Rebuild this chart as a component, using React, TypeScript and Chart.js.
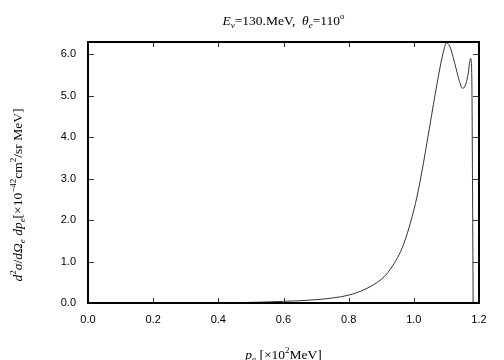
import React, { useEffect, useRef } from "react";
import { Chart, registerables } from "chart.js";

Chart.register(...registerables);

const momentum: number[] = [
  0.4, 0.45, 0.5, 0.55, 0.6, 0.65, 0.7, 0.75, 0.8, 0.85, 0.9, 0.92, 0.94, 0.96,
  0.97, 0.98, 0.99, 1.0, 1.01, 1.02, 1.03, 1.04, 1.05, 1.06, 1.07, 1.08, 1.09,
  1.1, 1.11, 1.12, 1.13, 1.14, 1.15, 1.16, 1.167, 1.172, 1.175, 1.178, 1.18,
  1.182,
];
const crossSection: number[] = [
  0.0, 0.005, 0.015, 0.025, 0.04, 0.055, 0.08, 0.12, 0.19, 0.33, 0.57, 0.73,
  0.96, 1.25, 1.45, 1.68, 1.95, 2.24, 2.58, 2.97, 3.4, 3.86, 4.32, 4.79, 5.24,
  5.67, 6.04, 6.28, 6.2, 5.95, 5.65, 5.35, 5.18, 5.3, 5.55, 5.85, 5.9, 5.4, 3.0,
  0.0,
];
const xTicks: number[] = [0, 0.2, 0.4, 0.6, 0.8, 1.0, 1.2];
const yTicks: number[] = [0, 1, 2, 3, 4, 5, 6];

type Seg = { t: string; i?: boolean; s?: "sub" | "sup" };

const titleSegs: Seg[] = [
  { t: "E", i: true },
  { t: "\u03bd", i: true, s: "sub" },
  { t: "=130.MeV,  " },
  { t: "\u03b8", i: true },
  { t: "e", i: true, s: "sub" },
  { t: "=110" },
  { t: "o", s: "sup" },
];
const yLabelSegs: Seg[] = [
  { t: "d", i: true },
  { t: "2", s: "sup" },
  { t: "\u03c3", i: true },
  { t: "/" },
  { t: "d\u03a9", i: true },
  { t: "e", i: true, s: "sub" },
  { t: " " },
  { t: "dp", i: true },
  { t: "e", i: true, s: "sub" },
  { t: "[\u00d710" },
  { t: "\u221242", s: "sup" },
  { t: "cm" },
  { t: "2", s: "sup" },
  { t: "/sr MeV]" },
];
const xLabelSegs: Seg[] = [
  { t: "p", i: true },
  { t: "e", i: true, s: "sub" },
  { t: " [\u00d710" },
  { t: "2", s: "sup" },
  { t: "MeV]" },
];

const SERIF = '"Liberation Serif", "DejaVu Serif", serif';

function font(seg: Seg, size: number) {
  const sz = seg.s ? Math.round(size * 0.7) : size;
  return `${seg.i ? "italic " : ""}${sz}px ${SERIF}`;
}

function drawRich(
  ctx: CanvasRenderingContext2D,
  segs: Seg[],
  cx: number,
  cy: number,
  size: number,
  rotate = false
) {
  ctx.save();
  ctx.translate(cx, cy);
  if (rotate) ctx.rotate(-Math.PI / 2);
  let total = 0;
  for (const s of segs) {
    ctx.font = font(s, size);
    total += ctx.measureText(s.t).width;
  }
  let x = -total / 2;
  ctx.fillStyle = "#000";
  ctx.textBaseline = "alphabetic";
  ctx.textAlign = "left";
  const base = size * 0.35;
  for (const s of segs) {
    ctx.font = font(s, size);
    let dy = 0;
    if (s.s === "sub") dy = size * 0.25;
    if (s.s === "sup") dy = -size * 0.4;
    ctx.fillText(s.t, x, base + dy);
    x += ctx.measureText(s.t).width;
  }
  ctx.restore();
}

const decorPlugin = {
  id: "decor",
  afterDraw(chart: any) {
    const { ctx, chartArea } = chart;
    const { left, right, top, bottom } = chartArea;
    const xs = chart.scales.x;
    const ys = chart.scales.y;
    ctx.save();
    ctx.strokeStyle = "#333";
    ctx.lineWidth = 1;
    ctx.beginPath();
    for (const v of xTicks) {
      const px = Math.round(xs.getPixelForValue(v)) + 0.5;
      ctx.moveTo(px, bottom);
      ctx.lineTo(px, bottom - 5);
      ctx.moveTo(px, top);
      ctx.lineTo(px, top + 5);
    }
    for (const v of yTicks) {
      const py = Math.round(ys.getPixelForValue(v)) + 0.5;
      ctx.moveTo(left, py);
      ctx.lineTo(left + 6, py);
      ctx.moveTo(right, py);
      ctx.lineTo(right - 6, py);
    }
    ctx.stroke();
    ctx.strokeStyle = "#000";
    ctx.lineWidth = 2;
    ctx.strokeRect(left, top, right - left, bottom - top);
    ctx.restore();

    drawRich(ctx, titleSegs, (left + right) / 2, 20, 13.5);
    drawRich(ctx, xLabelSegs, (left + right) / 2, 354, 13.5);
    drawRich(ctx, yLabelSegs, 17, 195, 13.5, true);
  },
};

export default function App() {
  const ref = useRef<HTMLCanvasElement | null>(null);
  useEffect(() => {
    document.body.style.margin = "0";
    const canvas = ref.current;
    if (!canvas) return;
    const chart = new Chart(canvas, {
      type: "line",
      data: {
        datasets: [
          {
            data: momentum.map((p, i) => ({ x: p, y: crossSection[i] })),
            borderColor: "#333",
            borderWidth: 1,
            pointRadius: 0,
            fill: false,
            cubicInterpolationMode: "monotone",
          },
        ],
      },
      options: {
        responsive: false,
        animation: false,
        layout: { padding: { left: 8, right: 25, top: 42, bottom: 0 } },
        plugins: {
          legend: { display: false },
          tooltip: { enabled: false },
          title: { display: false },
        },
        scales: {
          x: {
            type: "linear",
            min: 0,
            max: 1.2,
            afterBuildTicks: (s: any) => {
              s.ticks = xTicks.map((v) => ({ value: v }));
            },
            afterFit: (s: any) => {
              s.height = 57;
            },
            ticks: {
              padding: 10,
              color: "#000",
              font: { family: '"Liberation Sans", Arial, sans-serif', size: 11 },
              callback: (v: any) => Number(v).toFixed(1),
            },
            grid: { display: true, drawOnChartArea: false, drawTicks: false },
            border: { display: false },
          },
          y: {
            type: "linear",
            min: 0,
            max: 6.3,
            afterBuildTicks: (s: any) => {
              s.ticks = yTicks.map((v) => ({ value: v }));
            },
            afterFit: (s: any) => {
              s.width = 80;
            },
            ticks: {
              padding: 12,
              color: "#000",
              font: { family: '"Liberation Sans", Arial, sans-serif', size: 11 },
              callback: (v: any) => Number(v).toFixed(1),
            },
            grid: { display: true, drawOnChartArea: false, drawTicks: false },
            border: { display: false },
          },
        },
      },
      plugins: [decorPlugin],
    } as any);
    return () => chart.destroy();
  }, []);
  return (
    <div style={{ width: 504, height: 360 }}>
      <canvas ref={ref} width={504} height={360} style={{ display: "block" }} />
    </div>
  );
}
